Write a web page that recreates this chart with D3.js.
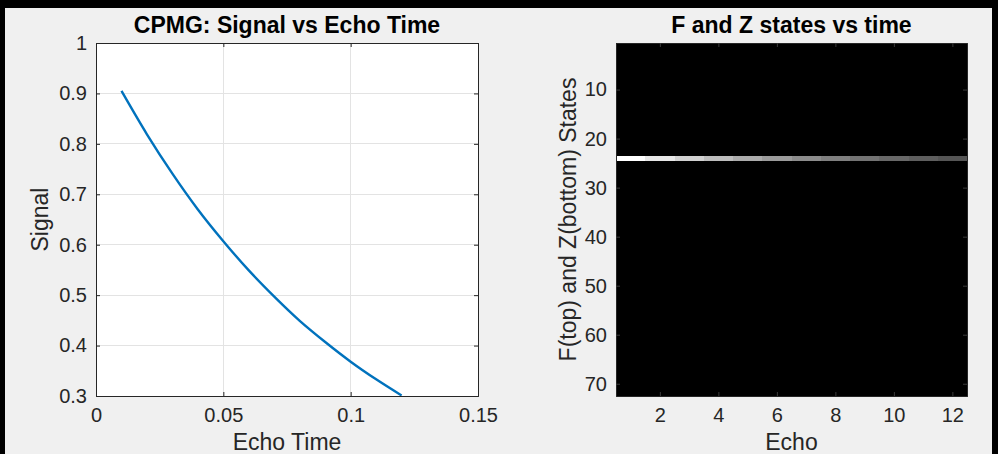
<!DOCTYPE html>
<html>
<head>
<meta charset="utf-8">
<script src="https://cdn.jsdelivr.net/npm/d3@7"></script>
<style>
html,body{margin:0;padding:0;background:#000;}
svg{display:block;}
text{font-family:"Liberation Sans",Arial,Helvetica,sans-serif;fill:#262626;}
</style>
</head>
<body>
<svg id="chart" width="998" height="454"></svg>
<script>
// ---- Data ----
const echoTimes = [0.01, 0.02, 0.03, 0.04, 0.05, 0.06, 0.07, 0.08, 0.09, 0.10, 0.11, 0.12];
const signalValues = [0.905, 0.819, 0.741, 0.670, 0.607, 0.549, 0.497, 0.449, 0.407, 0.368, 0.333, 0.301];
const leftXTicks = [0, 0.05, 0.1, 0.15];
const leftYTicks = [0.3, 0.4, 0.5, 0.6, 0.7, 0.8, 0.9, 1];
const echoNumbers = [1, 2, 3, 4, 5, 6, 7, 8, 9, 10, 11, 12];
const stateCount = 72;
const brightStateRow = 24;
const brightRowValues = [0.905, 0.819, 0.741, 0.670, 0.607, 0.549, 0.497, 0.449, 0.407, 0.368, 0.333, 0.301];
const rightXTicks = [2, 4, 6, 8, 10, 12];
const rightYTicks = [10, 20, 30, 40, 50, 60, 70];

const svg = d3.select("#chart");
// figure background
svg.append("rect").attr("x", 5).attr("y", 8).attr("width", 987).attr("height", 446).attr("fill", "#f0f0f0");

const tickFont = 20, labelFont = 23, titleFont = 23;
const axisColor = "#262626";

// ---- Left plot ----
const L = {x0: 96, x1: 478, y0: 43, y1: 396};
const xL = d3.scaleLinear().domain([0, 0.15]).range([L.x0, L.x1]);
const yL = d3.scaleLinear().domain([0.3, 1]).range([L.y1, L.y0]);
const gL = svg.append("g");
gL.append("rect").attr("x", L.x0).attr("y", L.y0).attr("width", L.x1 - L.x0).attr("height", L.y1 - L.y0).attr("fill", "#fff");
// grid
gL.selectAll(".gx").data(leftXTicks).join("line")
  .attr("x1", d => xL(d)).attr("x2", d => xL(d)).attr("y1", L.y0).attr("y2", L.y1)
  .attr("stroke", "#e3e3e3").attr("stroke-width", 1).attr("shape-rendering", "crispEdges");
gL.selectAll(".gy").data(leftYTicks).join("line")
  .attr("x1", L.x0).attr("x2", L.x1).attr("y1", d => yL(d)).attr("y2", d => yL(d))
  .attr("stroke", "#e3e3e3").attr("stroke-width", 1).attr("shape-rendering", "crispEdges");
// line
const line = d3.line().x((d, i) => xL(echoTimes[i])).y(d => yL(d)).curve(d3.curveMonotoneX);
gL.append("path").datum(signalValues).attr("d", line).attr("fill", "none")
  .attr("stroke", "#0072BD").attr("stroke-width", 2.4);
// axes
const axXL = d3.axisBottom(xL).tickValues(leftXTicks).tickSize(-4).tickPadding(12).tickFormat(d3.format("~g"));
const axYL = d3.axisLeft(yL).tickValues(leftYTicks).tickSize(-4).tickPadding(9).tickFormat(d3.format("~g"));
function styleAxis(g) {
  g.select(".domain").attr("stroke", axisColor);
  g.selectAll(".tick line").attr("stroke", axisColor);
  g.selectAll(".tick text").attr("fill", axisColor).style("font-size", tickFont + "px").style("font-family", "Liberation Sans, Arial, sans-serif");
}
gL.append("g").attr("transform", `translate(0,${L.y1})`).call(axXL).call(styleAxis);
gL.append("g").attr("transform", `translate(${L.x0},0)`).call(axYL).call(styleAxis);
gL.append("g").attr("transform", `translate(0,${L.y0})`).call(d3.axisTop(xL).tickValues(leftXTicks).tickSize(-4).tickFormat("")).call(styleAxis);
gL.append("g").attr("transform", `translate(${L.x1},0)`).call(d3.axisRight(yL).tickValues(leftYTicks).tickSize(-4).tickFormat("")).call(styleAxis);
gL.append("text").attr("x", (L.x0 + L.x1) / 2).attr("y", 33).attr("text-anchor", "middle")
  .style("font-size", titleFont + "px").style("font-weight", "bold").style("fill", "#000").text("CPMG: Signal vs Echo Time");
gL.append("text").attr("x", (L.x0 + L.x1) / 2).attr("y", 450).attr("text-anchor", "middle")
  .style("font-size", labelFont + "px").text("Echo Time");
gL.append("text").attr("transform", `translate(48,${(L.y0 + L.y1) / 2}) rotate(-90)`).attr("text-anchor", "middle")
  .style("font-size", labelFont + "px").text("Signal");

// ---- Right plot (heatmap) ----
const R = {x0: 616, x1: 967, y0: 43, y1: 396};
const xR = d3.scaleLinear().domain([0.5, 12.5]).range([R.x0, R.x1]);
const yR = d3.scaleLinear().domain([0.5, stateCount + 0.5]).range([R.y0, R.y1]);
const maxVal = d3.max(brightRowValues);
const gray = d3.scaleLinear().domain([0, maxVal]).range(["#000000", "#ffffff"]);
const cells = [];
for (let s = 1; s <= stateCount; s++) {
  echoNumbers.forEach((e, i) => {
    cells.push({echo: e, state: s, v: s === brightStateRow ? brightRowValues[i] : 0});
  });
}
const gR = svg.append("g");
gR.append("rect").attr("x", R.x0).attr("y", R.y0).attr("width", R.x1 - R.x0).attr("height", R.y1 - R.y0).attr("fill", "#000");
gR.selectAll("rect.cell").data(cells).join("rect").attr("class", "cell")
  .attr("x", d => xR(d.echo - 0.5)).attr("y", d => yR(d.state - 0.5))
  .attr("width", xR(1.5) - xR(0.5)).attr("height", yR(1.5) - yR(0.5))
  .attr("shape-rendering", "crispEdges")
  .attr("fill", d => gray(d.v));
const axXR = d3.axisBottom(xR).tickValues(rightXTicks).tickSize(-4).tickPadding(12);
const axYR = d3.axisLeft(yR).tickValues(rightYTicks).tickSize(-4).tickPadding(9);
function styleAxisR(g) {
  styleAxis(g);
  g.selectAll(".tick line").attr("stroke", "#3a3a3a");
}
gR.append("g").attr("transform", `translate(0,${R.y1})`).call(axXR).call(styleAxisR);
gR.append("g").attr("transform", `translate(${R.x0},0)`).call(axYR).call(styleAxisR);
gR.append("g").attr("transform", `translate(0,${R.y0})`).call(d3.axisTop(xR).tickValues(rightXTicks).tickSize(-4).tickFormat("")).call(styleAxisR);
gR.append("g").attr("transform", `translate(${R.x1},0)`).call(d3.axisRight(yR).tickValues(rightYTicks).tickSize(-4).tickFormat("")).call(styleAxisR);
gR.append("text").attr("x", (R.x0 + R.x1) / 2).attr("y", 33).attr("text-anchor", "middle")
  .style("font-size", titleFont + "px").style("font-weight", "bold").style("fill", "#000").text("F and Z states vs time");
gR.append("text").attr("x", (R.x0 + R.x1) / 2).attr("y", 450).attr("text-anchor", "middle")
  .style("font-size", labelFont + "px").text("Echo");
gR.append("text").attr("transform", `translate(576,${(R.y0 + R.y1) / 2}) rotate(-90)`).attr("text-anchor", "middle")
  .style("font-size", labelFont + "px").text("F(top) and Z(bottom) States");
</script>
</body>
</html>
